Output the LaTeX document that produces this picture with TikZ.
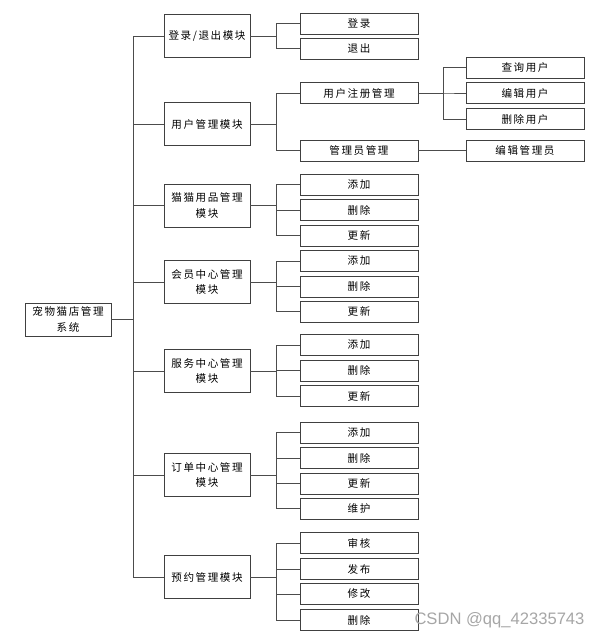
\documentclass[tikz,border=0pt]{standalone}
\usepackage{fontspec}
\newfontfamily\cjk[LetterSpace=15]{Noto Sans CJK SC}
\newfontfamily\wmfont{Liberation Sans}

\tikzset{
  box/.style={draw=black!75, line width=0.6pt, align=center, inner sep=1pt,
    font=\cjk\fontsize{7.5}{11}\selectfont},
  mod/.style={box, minimum width=2.15cm, minimum height=1.075cm},
  sub/.style={box, minimum width=2.95cm, minimum height=0.525cm},
  link/.style={draw=black!70, line width=0.5pt},
}

\begin{document}
\begin{tikzpicture}[x=0.025cm, y=-0.025cm]
    \useasboundingbox (0,0) rectangle (599,639);

    \node [mod, minimum height=0.825cm] (sys) at (68,319.5) {宠物猫店管理\\系统};

    \node [mod] (login) at (207,36) {登录/退出模块};
    \node [mod] (user) at (207,124) {用户管理模块};
    \node [mod] (goods) at (207,205.5) {猫猫用品管理\\模块};
    \node [mod] (member) at (207,282) {会员中心管理\\模块};
    \node [mod] (service) at (207,371) {服务中心管理\\模块};
    \node [mod] (order) at (207,475) {订单中心管理\\模块};
    \node [mod] (booking) at (207,577) {预约管理模块};

    \node [sub] (loginA) at (359,23.5) {登录};
    \node [sub] (loginB) at (359,48.5) {退出};

    \node [sub] (userA) at (359,93) {用户注册管理};
    \node [sub] (userB) at (359,150.5) {管理员管理};

    \node [sub] (goodsA) at (359,184.5) {添加};
    \node [sub] (goodsB) at (359,210) {删除};
    \node [sub] (goodsC) at (359,235.5) {更新};

    \node [sub] (memberA) at (359,261) {添加};
    \node [sub] (memberB) at (359,286.5) {删除};
    \node [sub] (memberC) at (359,311.5) {更新};

    \node [sub] (serviceA) at (359,345) {添加};
    \node [sub] (serviceB) at (359,370.5) {删除};
    \node [sub] (serviceC) at (359,396) {更新};

    \node [sub] (orderA) at (359,432.5) {添加};
    \node [sub] (orderB) at (359,458) {删除};
    \node [sub] (orderC) at (359,483.5) {更新};
    \node [sub] (orderD) at (359,508.5) {维护};

    \node [sub] (bookingA) at (359,543) {审核};
    \node [sub] (bookingB) at (359,569) {发布};
    \node [sub] (bookingC) at (359,594) {修改};
    \node [sub] (bookingD) at (359,620) {删除};

    \node [sub] (regA) at (525,67.5) {查询用户};
    \node [sub] (regB) at (525,93) {编辑用户};
    \node [sub] (regC) at (525,119) {删除用户};
    \node [sub] (admA) at (525,150.5) {编辑管理员};

    \coordinate (trunk) at (133,0);
    \coordinate (fork) at (276.5,0);
    \coordinate (twig) at (443,0);

    \foreach \m in {login,user,goods,member,service,order,booking}
      \draw [link] (sys.east) -| (trunk |- \m) -- (\m.west);

    \foreach \p/\c in {login/loginA, login/loginB, user/userA, user/userB,
        goods/goodsA, goods/goodsB, goods/goodsC,
        member/memberA, member/memberB, member/memberC,
        service/serviceA, service/serviceB, service/serviceC,
        order/orderA, order/orderB, order/orderC, order/orderD,
        booking/bookingA, booking/bookingB, booking/bookingC, booking/bookingD}
      \draw [link] (\p.east) -| (fork |- \c) -- (\c.west);

    \foreach \c in {regA,regB,regC}
      \draw [link] (userA.east) -| (twig |- \c) -- (\c.west);
    \draw [link] (userB) -- (admA);

    \node [text=black!35, font=\wmfont\fontsize{11.8}{13}\selectfont] (mark) at (499.5,620) {CSDN @qq\_42335743};
\end{tikzpicture}
\end{document}
